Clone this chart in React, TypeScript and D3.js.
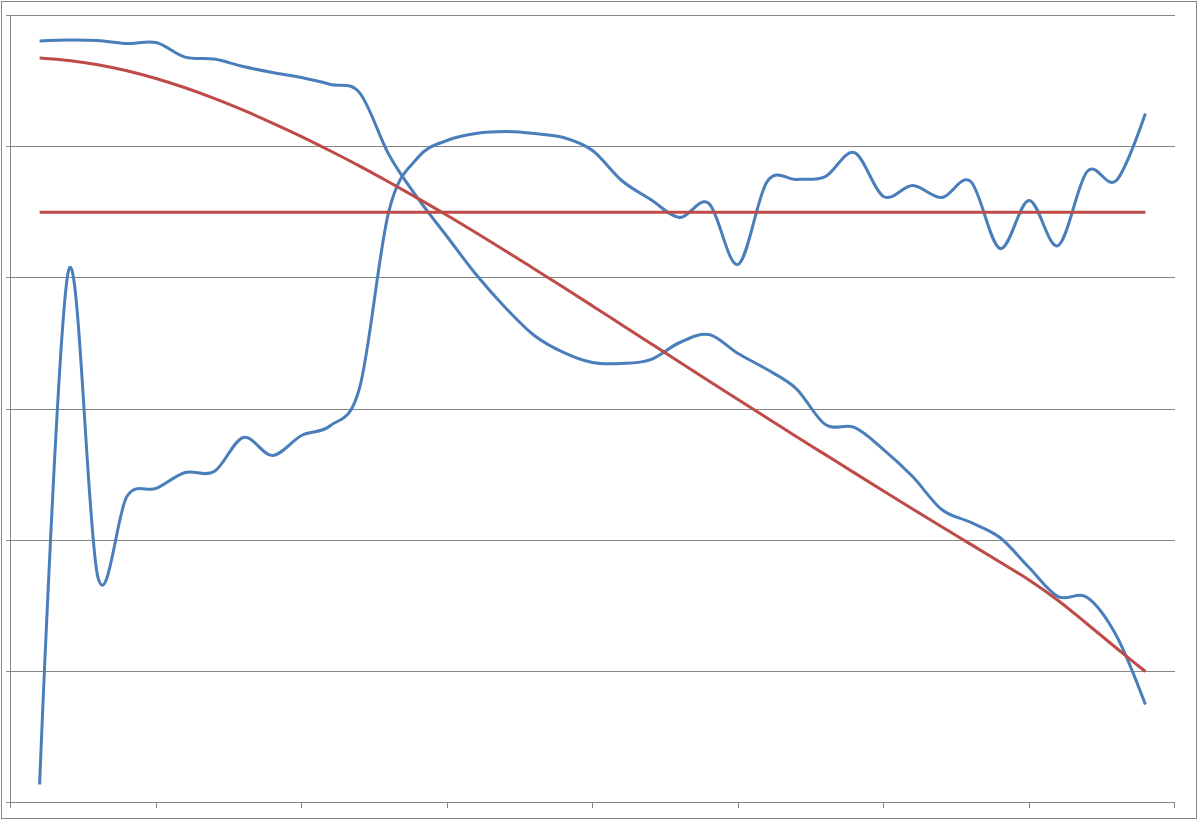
import React from 'react';
import * as d3 from 'd3';

// category positions (1..39) on a 0..40 axis
const categories = [
  1, 2, 3, 4, 5, 6, 7, 8, 9, 10, 11, 12, 13, 14, 15, 16, 17, 18, 19, 20,
  21, 22, 23, 24, 25, 26, 27, 28, 29, 30, 31, 32, 33, 34, 35, 36, 37, 38, 39,
];

// blue: high plateau that falls away
const blueFalling = [
  58.05, 58.13, 58.09, 57.86, 57.94, 56.83, 56.68, 56.11, 55.65, 55.27,
  54.74, 54.1, 49.4, 46.05, 43.15, 40.25, 37.74, 35.6, 34.31, 33.54,
  33.47, 33.77, 35.07, 35.68, 34.23, 33.01, 31.56, 28.82, 28.59, 26.91,
  24.85, 22.34, 21.35, 20.2, 17.92, 15.7, 15.63, 12.73, 7.47,
];

// blue: low start, spike, then climbs to upper band
const blueRising = [
  1.37, 40.6, 17.2, 23.33, 23.94, 25.16, 25.23, 27.83, 26.45, 27.98,
  28.74, 31.64, 45.06, 49.17, 50.47, 51.0, 51.15, 51.0, 50.7, 49.71,
  47.42, 45.97, 44.6, 45.67, 41.02, 47.34, 47.5, 47.72, 49.55, 46.2,
  47.04, 46.12, 47.34, 42.24, 45.89, 42.46, 48.11, 47.42, 52.53,
];

// red: smooth decline
const redCurve = [
  56.76, 56.57, 56.25, 55.79, 55.2, 54.49, 53.68, 52.78, 51.8, 50.77,
  49.67, 48.52, 47.31, 46.06, 44.77, 43.43, 42.07, 40.68, 39.28, 37.86,
  36.43, 35.0, 33.57, 32.14, 30.72, 29.31, 27.91, 26.52, 25.13, 23.75,
  22.38, 21.02, 19.68, 18.33, 16.96, 15.4, 13.61, 11.78, 9.99,
];

// red: flat level
const redFlat = [
  45, 45, 45, 45, 45, 45, 45, 45, 45, 45, 45, 45, 45, 45, 45, 45, 45, 45, 45, 45,
  45, 45, 45, 45, 45, 45, 45, 45, 45, 45, 45, 45, 45, 45, 45, 45, 45, 45, 45,
];

const xTicks = [0, 5, 10, 15, 20, 25, 30, 35, 40];
const yTicks = [0, 10, 20, 30, 40, 50, 60];

const W = 1198;
const H = 820;
const plot = { left: 10.5, right: 1174.5, top: 15.5, bottom: 802.5 };
const axisColor = '#868686';

const series = [
  { name: 'blueFalling', values: blueFalling, color: '#4A7EBB' },
  { name: 'blueRising', values: blueRising, color: '#4A7EBB' },
  { name: 'redCurve', values: redCurve, color: '#BE4B48' },
  { name: 'redFlat', values: redFlat, color: '#BE4B48' },
];

export default function App() {
  const x = d3.scaleLinear().domain([0, 40]).range([plot.left, plot.right]);
  const y = d3.scaleLinear().domain([0, 60]).range([plot.bottom, plot.top]);

  const line = d3
    .line<number>()
    .x((_, i) => x(categories[i]))
    .y((d) => y(d))
    .curve(d3.curveCardinal.tension(0));

  const crisp = (v: number) => Math.round(v - 0.5) + 0.5;

  return (
    <svg
      width={W}
      height={H}
      style={{ position: 'absolute', left: 0, top: 0, background: '#fff' }}
    >
      <rect x={1.5} y={1.5} width={W - 3} height={H - 3} fill="#fff" stroke={axisColor} strokeWidth={1} />

      {/* horizontal gridlines, with y ticks sticking out left */}
      <g shapeRendering="crispEdges">
        {yTicks.map((t) => (
          <line key={t} x1={plot.left - 4.5} x2={plot.right} y1={crisp(y(t))} y2={crisp(y(t))} stroke={axisColor} strokeWidth={1} />
        ))}
        {/* vertical axis */}
        <line x1={plot.left} x2={plot.left} y1={plot.top} y2={plot.bottom} stroke={axisColor} strokeWidth={1} />
        {/* category ticks */}
        {xTicks.map((t) => (
          <line key={t} x1={crisp(x(t))} x2={crisp(x(t))} y1={plot.bottom} y2={plot.bottom + 5} stroke={axisColor} strokeWidth={1} />
        ))}
      </g>

      {series.map((s) => (
        <path
          key={s.name}
          d={line(s.values) || ''}
          fill="none"
          stroke={s.color}
          strokeWidth={3}
          strokeLinejoin="round"
        />
      ))}
    </svg>
  );
}
